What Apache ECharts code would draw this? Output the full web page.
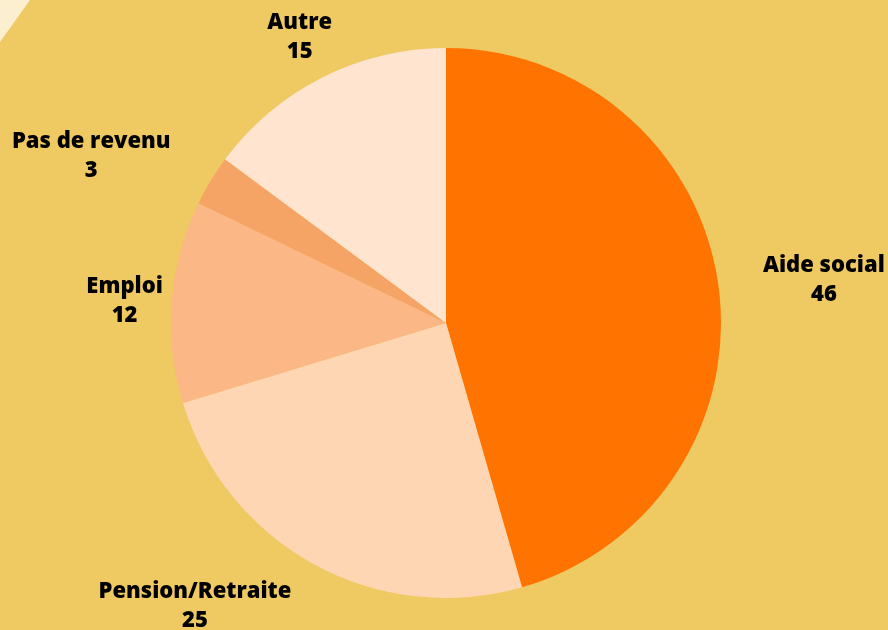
<!DOCTYPE html>
<html>
<head>
<meta charset="utf-8">
<script src="https://cdn.jsdelivr.net/npm/echarts@6/dist/echarts.min.js"></script>
<style>
  html, body { margin: 0; padding: 0; background: #EFC962; }
  #main { width: 888px; height: 630px; }
</style>
</head>
<body>
<div id="main"></div>
<script>
var categories = ['Aide social', 'Pension/Retraite', 'Emploi', 'Pas de revenu', 'Autre'];
var values = [46, 25, 12, 3, 15];
var colors = ['#FF7300', '#FFD6B3', '#FBB886', '#F5A466', '#FFE4CF'];

// label placement tweaks per slice (line length / gap)
var labelLen = [34, 47, 5, 47, 45];
var labelGap = [11, 1, 4, 0, -30];

var data = [];
for (var i = 0; i < categories.length; i++) {
    data.push({
        name: categories[i],
        value: values[i],
        itemStyle: {color: colors[i]},
        labelLine: {show: false, length: labelLen[i], length2: 0},
        label: {distanceToLabelLine: labelGap[i]}
    });
}

var myChart = echarts.init(document.getElementById('main'));
myChart.setOption({
    backgroundColor: '#EFC962',
    animation: false,
    graphic: [
        {
            type: 'polygon',
            shape: {points: [[0, 0], [30, 0], [0, 42]]},
            style: {fill: '#FBEFD0'}
        }
    ],
    series: [
        {
            type: 'pie',
            center: [446, 323],
            radius: 275,
            startAngle: 90,
            clockwise: true,
            avoidLabelOverlap: false,
            data: data,
            label: {
                show: true,
                position: 'outside',
                formatter: '{a|{b}}\n{a|{c}}',
                rich: {
                    a: {
                        fontFamily: 'Open Sans',
                        fontWeight: 800,
                        fontSize: 22,
                        lineHeight: 29,
                        color: '#000',
                        align: 'center'
                    }
                }
            },
            emphasis: {disabled: true}
        }
    ]
});
</script>
</body>
</html>
